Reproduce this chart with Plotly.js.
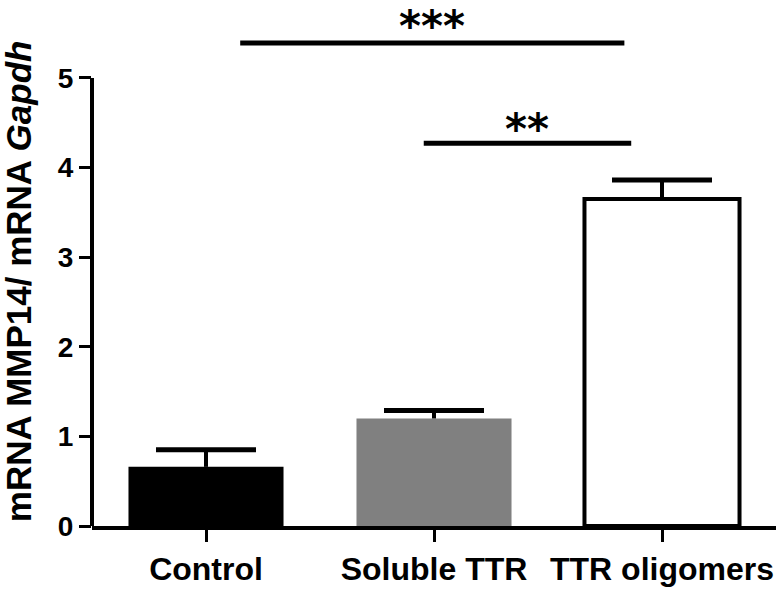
<!DOCTYPE html>
<html>
<head>
<meta charset="utf-8">
<script src="https://cdn.plot.ly/plotly-3.0.1.min.js"></script>
<style>
  body { margin: 0; background: #fff; }
  #plotDiv { width: 776px; height: 595px; }
</style>
</head>
<body>
<div id="plotDiv"></div>
<script>
// group labels and means
let groups = ["Control", "Soluble TTR", "TTR oligomers"];
let means = [0.66, 1.2, 3.65];
let sem = [0.19, 0.09, 0.21];
let fills = ["#000000", "#808080", "#ffffff"];
let outlines = ["#000000", "#808080", "#000000"];

// significance brackets
let sigFrom = [0.15, 0.955];
let sigTo = [1.835, 1.865];
let sigY = [5.39, 4.27];
let sigText = ["***", "**"];
let starLift = [0.48, 0.45]; // top of the star text box, above its line

let font = "Liberation Sans, Arial, sans-serif";

// top of each error bar (mean + sem)
let tops = means.map((m, i) => m + sem[i]);

let data = [
  {
    x: groups,
    y: means,
    type: "bar",
    width: 0.68,
    marker: { color: fills, line: { color: outlines, width: [0, 0, 4] } },
    hoverinfo: "none"
  },
  // stem of the error bar (no caps)
  {
    x: groups,
    y: means,
    type: "scatter",
    mode: "markers",
    marker: { opacity: 0 },
    error_y: { type: "data", symmetric: false, array: sem, arrayminus: [0, 0, 0],
      color: "#000", thickness: 4, width: 0 },
    hoverinfo: "none"
  },
  // cap of the error bar
  {
    x: groups,
    y: tops,
    type: "scatter",
    mode: "markers",
    marker: { opacity: 0 },
    error_y: { type: "data", array: [0, 0, 0], color: "#000", thickness: 5, width: 50 },
    hoverinfo: "none"
  }
];

let shapes = [
  // y axis line, only from 0 to 5
  { type: "line", xref: "paper", yref: "y", x0: 0, x1: 0, y0: 0, y1: 5,
    line: { color: "#000", width: 4 } }
];
let annotations = [
  {
    xref: "paper", yref: "paper", x: -0.107, y: 0.465,
    xanchor: "center", yanchor: "middle", textangle: -90, showarrow: false,
    text: "mRNA MMP14/ mRNA <i>Gapdh</i>",
    font: { family: font, size: 35, color: "#000", weight: "bold" }
  }
];
for (let i = 0; i < sigY.length; i++) {
  shapes.push({ type: "line", xref: "x", yref: "y", x0: sigFrom[i], x1: sigTo[i],
    y0: sigY[i], y1: sigY[i], line: { color: "#000", width: 5 } });
  annotations.push({ xref: "x", yref: "y", x: (sigFrom[i] + sigTo[i]) / 2, y: sigY[i] + starLift[i],
    text: sigText[i], showarrow: false, yanchor: "top",
    font: { family: "DejaVu Sans, sans-serif", size: 42, color: "#000", weight: "bold" } });
}

let layout = {
  width: 776,
  height: 595,
  margin: { l: 92, r: 0, t: 0, b: 69 },
  paper_bgcolor: "#fff",
  plot_bgcolor: "#fff",
  showlegend: false,
  xaxis: {
    range: [-0.5, 2.5],
    showline: true, linecolor: "#000", linewidth: 4,
    ticks: "outside", ticklen: 12, tickwidth: 3, tickcolor: "#000",
    tickangle: 0,
    showgrid: false, zeroline: false,
    tickfont: { family: font, size: 32, color: "#000", weight: "bold" }
  },
  yaxis: {
    range: [0, 5.87],
    tickvals: [0, 1, 2, 3, 4, 5],
    showline: false,
    ticks: "outside", ticklen: 12, tickwidth: 3, tickcolor: "#000",
    showgrid: false, zeroline: false,
    tickfont: { family: font, size: 28, color: "#000", weight: "bold" }
  },
  shapes: shapes,
  annotations: annotations
};

Plotly.newPlot("plotDiv", data, layout, { displayModeBar: false, staticPlot: true });
</script>
</body>
</html>
